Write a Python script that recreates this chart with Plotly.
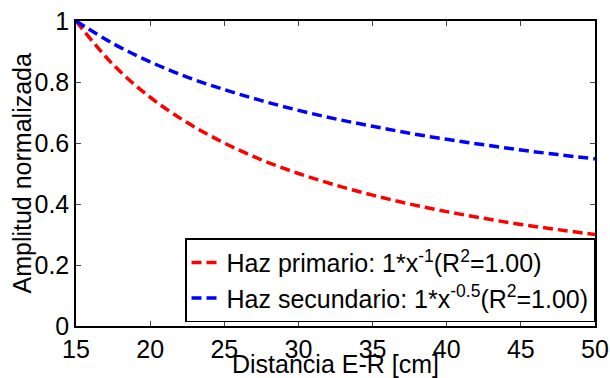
import plotly.graph_objects as go

x_cm = [15, 17.5, 20, 22.5, 25, 27.5, 30, 32.5, 35, 37.5, 40, 42.5, 45, 47.5, 50]
primario = [1.0, 0.857, 0.75, 0.667, 0.6, 0.545, 0.5, 0.462, 0.429, 0.4, 0.375, 0.353, 0.333, 0.316, 0.3]
secundario = [1.0, 0.926, 0.866, 0.816, 0.775, 0.739, 0.707, 0.679, 0.655, 0.632, 0.612, 0.594, 0.577, 0.562, 0.548]
names = ["Haz primario: 1*x<sup>-1</sup>(R<sup>2</sup>=1.00)",
         "Haz secundario: 1*x<sup>-0.5</sup>(R<sup>2</sup>=1.00)"]
x_ticks = [15, 20, 25, 30, 35, 40, 45, 50]
y_ticks = [0, 0.2, 0.4, 0.6, 0.8, 1]
y_tick_text = ["0", "0.2", "0.4", "0.6", "0.8", "1"]
x_title = "Distancia E-R [cm]"
y_title = "Amplitud normalizada"

fig = go.Figure()
fig.add_trace(go.Scatter(x=x_cm, y=primario, mode="lines", name=names[0],
                         line=dict(color="#ff0000", width=3.5, dash="10px,5px", shape="spline")))
fig.add_trace(go.Scatter(x=x_cm, y=secundario, mode="lines", name=names[1],
                         line=dict(color="#0000ff", width=3.5, dash="10px,5px", shape="spline")))

font = "Liberation Sans"
fig.update_layout(
    width=610, height=378,
    margin=dict(l=76, r=15, t=21, b=52, autoexpand=False),
    paper_bgcolor="white", plot_bgcolor="white",
    font=dict(family=font, size=25, color="black"),
    showlegend=True,
    legend=dict(x=1, xanchor="right", y=0.012, yanchor="bottom",
                bgcolor="white", bordercolor="black", borderwidth=1.5,
                font=dict(family=font, size=25), itemwidth=30, tracegroupgap=0),
    xaxis=dict(range=[15, 50], tickvals=x_ticks, ticks="inside", ticklen=5,
               showline=True, linecolor="black", linewidth=1.5, mirror="ticks",
               showgrid=False, zeroline=False, automargin=False,
               tickfont=dict(family=font, size=25)),
    yaxis=dict(range=[0, 1], tickvals=y_ticks, ticktext=y_tick_text, ticks="inside", ticklen=5,
               showline=True, linecolor="black", linewidth=1.5, mirror="ticks",
               showgrid=False, zeroline=False, automargin=False,
               tickfont=dict(family=font, size=25)),
    annotations=[
        dict(text=x_title, x=0.5, y=0, xref="paper", yref="paper", xanchor="center",
             yanchor="top", yshift=-22, showarrow=False, font=dict(family=font, size=25)),
        dict(text=y_title, x=0, y=0.5, xref="paper", yref="paper", xanchor="center",
             yanchor="middle", xshift=-55, textangle=-90, showarrow=False,
             font=dict(family=font, size=25)),
    ],
)
fig.write_html("out.html")
